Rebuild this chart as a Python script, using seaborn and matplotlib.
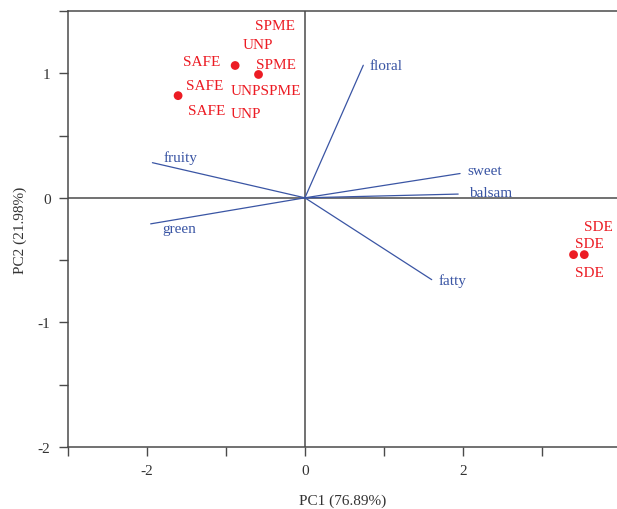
import pandas as pd
import matplotlib.pyplot as plt
from matplotlib.ticker import MultipleLocator
import seaborn as sns

# Sample scores (PC1, PC2)
sample_names = ["SAFE", "UNP", "SPME", "SDE", "SDE"]
pc1_scores = [-1.605, -0.883, -0.587, 3.40, 3.536]
pc2_scores = [0.82, 1.062, 0.99, -0.456, -0.456]

# Replicate labels placed around the points
label_text = ["SAFE", "SAFE", "SAFE", "UNP", "UNPSPME", "UNP",
              "SPME", "SPME", "SDE", "SDE", "SDE"]
label_x = [-1.542, -1.50, -1.48, -0.79, -0.938, -0.938,
           -0.634, -0.621, 3.53, 3.413, 3.413]
label_y = [1.105, 0.917, 0.716, 1.239, 0.877, 0.689,
           1.392, 1.084, -0.217, -0.356, -0.585]

# Loadings (odour attributes)
attributes = ["floral", "sweet", "balsam", "fatty", "fruity", "green"]
load_pc1 = [0.739, 1.964, 1.94, 1.605, -1.93, -1.952]
load_pc2 = [1.064, 0.195, 0.03, -0.657, 0.282, -0.209]
attr_lab_x = [0.824, 2.05, 2.08, 1.69, -1.783, -1.81]
attr_lab_y = [1.078, 0.233, 0.051, -0.652, 0.34, -0.236]

red = "#ec1c24"
blue = "#3a55a4"
axcol = "#4a4a4a"
fs = 11

sns.set_style("white")
plt.rcParams["font.family"] = ["Liberation Serif", "DejaVu Serif"]

fig = plt.figure(figsize=(6.17, 5.1), dpi=100)
ax = fig.add_axes([0.110, 0.1216, 0.89, 0.855])

# loading vectors
for i, name in enumerate(attributes):
    ax.plot([0, load_pc1[i]], [0, load_pc2[i]], color=blue, lw=0.9)
    ax.text(attr_lab_x[i], attr_lab_y[i], name, color=blue, fontsize=fs,
            ha="left", va="center_baseline")

# origin lines
ax.axhline(0, color=axcol, lw=1.1, zorder=1)
ax.axvline(0, color=axcol, lw=1.1, zorder=1)

scores = pd.DataFrame({"PC1": pc1_scores, "PC2": pc2_scores, "sample": sample_names})
sns.scatterplot(data=scores, x="PC1", y="PC2", color=red, s=40,
                edgecolor="none", ax=ax, zorder=3)

for t, x, y in zip(label_text, label_x, label_y):
    ax.text(x, y, t, color=red, fontsize=fs, ha="left", va="center_baseline")

ax.set_xlim(-3, 3.95)
ax.set_ylim(-2, 1.5)
ax.xaxis.set_minor_locator(MultipleLocator(1))
ax.yaxis.set_minor_locator(MultipleLocator(0.5))
ax.set_xticks([-2, 0, 2])
ax.set_xticklabels(["-2", "0", "2"])
ax.set_yticks([-2, -1, 0, 1])
ax.set_yticklabels(["-2", "-1", "0", "1"])
ax.tick_params(which="both", direction="out", length=6.5, width=1.0,
               color=axcol, labelsize=fs, labelcolor="#333333", pad=6)
ax.tick_params(axis="y", which="both", left=True)
ax.tick_params(axis="x", which="both", bottom=True)

for side in ["left", "top", "bottom"]:
    ax.spines[side].set_color(axcol)
    ax.spines[side].set_linewidth(1.1)
ax.spines["right"].set_visible(False)

ax.set_xlabel("PC1 (76.89%)", fontsize=fs, color="#333333", labelpad=12)
ax.set_ylabel("PC2 (21.98%)", fontsize=fs, color="#333333", labelpad=8)

fig.savefig("out.png", dpi=100)
